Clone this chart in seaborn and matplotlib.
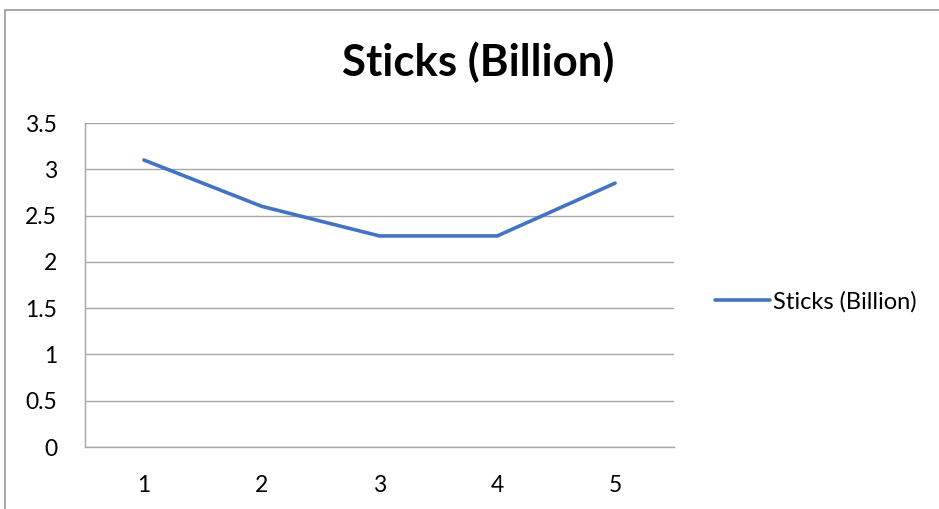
import matplotlib
matplotlib.use('Agg')
import matplotlib.pyplot as plt
import seaborn as sns
import pandas as pd

# data
categories = [1, 2, 3, 4, 5]
sticks = [3.1, 2.6, 2.28, 2.28, 2.85]
series_name = 'Sticks (Billion)'
y_ticks = [0, 0.5, 1, 1.5, 2, 2.5, 3, 3.5]

sns.set_style('white')
plt.rcParams['font.family'] = ['Lato', 'DejaVu Sans']
plt.rcParams['text.color'] = 'black'

df = pd.DataFrame({'x': categories, 'y': sticks})

fig = plt.figure(figsize=(9.39, 5.09), dpi=100)
ax = fig.add_axes([85 / 939, 62 / 509, 589 / 939, 324 / 509])

sns.lineplot(data=df, x='x', y='y', ax=ax, color='#4472C4', linewidth=2.6,
             label=series_name)

grid_col = '#a6a6a6'
ax.set_xlim(0.5, 5.5)
ax.set_ylim(0, 3.5)
ax.set_yticks(y_ticks)
ax.set_yticklabels([f'{v:g}' for v in y_ticks])
ax.set_xticks(categories)
ax.set_xticks([c - 0.5 for c in categories] + [5.5], minor=True)
ax.yaxis.grid(True, color=grid_col, linewidth=1)
ax.set_axisbelow(True)
ax.tick_params(axis='x', which='major', length=0, pad=20, labelsize=16.5, colors='black')
ax.tick_params(axis='x', which='minor', length=7, width=1, color=grid_col, direction='out')
ax.tick_params(axis='y', which='major', length=8, width=1, color=grid_col, pad=12,
               labelsize=16.5, labelcolor='black')
for side in ['top', 'right']:
    ax.spines[side].set_visible(False)
for side in ['left', 'bottom']:
    ax.spines[side].set_color(grid_col)
    ax.spines[side].set_linewidth(1)
ax.set_xlabel('')
ax.set_ylabel('')

fig.text(478 / 939, 1 - 62 / 509, series_name, ha='center', va='center',
         fontsize=31.5, fontweight='bold', color='black')

ax.legend(loc='center left', bbox_to_anchor=(694 / 939, 1 - 302 / 509),
          bbox_transform=fig.transFigure, frameon=False, fontsize=17,
          handlelength=2.3, handletextpad=0.15)

# chart-area border (top and left visible in the crop)
fig.add_artist(plt.Line2D([5 / 939, 1], [1 - 10 / 509, 1 - 10 / 509],
                          color='#999999', linewidth=1.2, transform=fig.transFigure))
fig.add_artist(plt.Line2D([5 / 939, 5 / 939], [0, 1 - 10 / 509],
                          color='#999999', linewidth=1.2, transform=fig.transFigure))

plt.savefig('out.png', dpi=100)
